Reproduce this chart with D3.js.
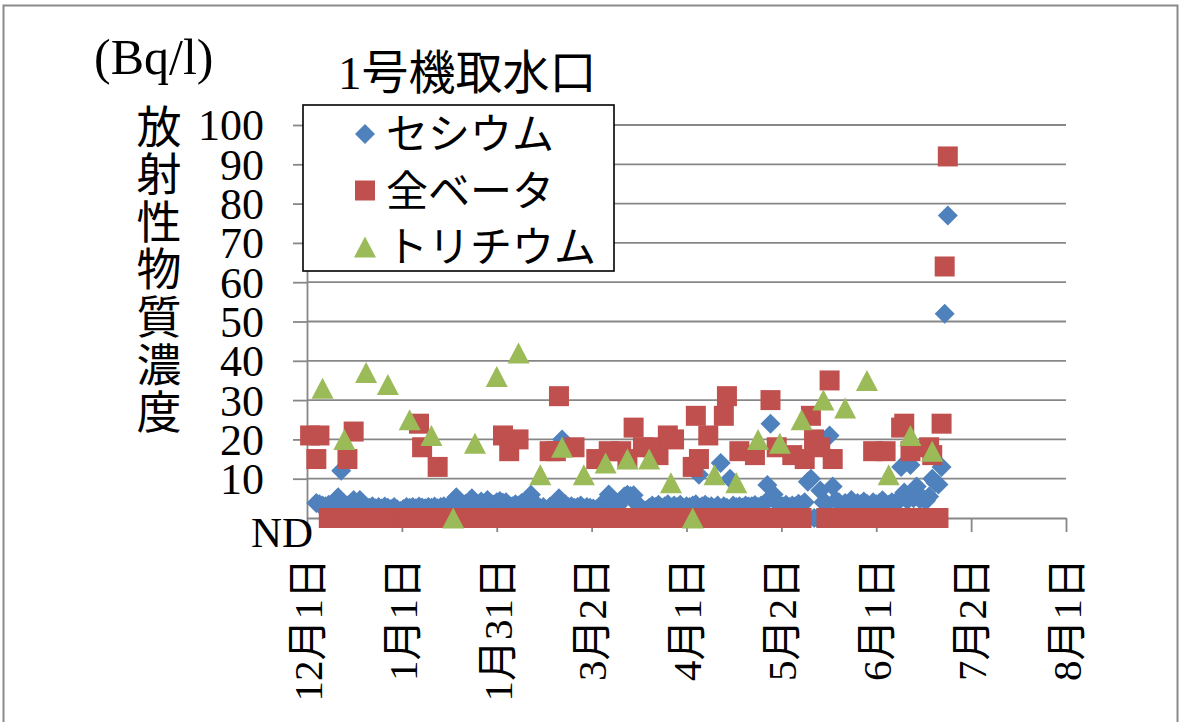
<!DOCTYPE html>
<html><head><meta charset="utf-8">
<script src="https://cdn.jsdelivr.net/npm/d3@7/dist/d3.min.js"></script>
<style>html,body{margin:0;padding:0;background:#fff;} svg{display:block}</style>
</head><body>
<svg id="c" width="1182" height="722"></svg>
<script>
// ---------------- data ----------------
const chartTitle = "1号機取水口";
const unitLabel = "(Bq/l)";
const yTitle = "放射性物質濃度";
const seriesNames = ["セシウム", "全ベータ", "トリチウム"];
const seriesColors = ["#4F81BD", "#C0504D", "#9BBB59"];
const xDomain = ["2011-12-01", "2012-08-01"];
const xMajorUnitDays = 30.5;
const xTickLabels = ["12月1日", "1月1日", "1月31日", "3月2日", "4月1日", "5月2日", "6月1日", "7月2日", "8月1日"];
const yTickValues = [10, 20, 30, 40, 50, 60, 70, 80, 90, 100];
const ndLabel = "ND";   // value 0 = not detected

// Cesium: daily samples starting 2011-12-04 (0 = ND, null = no sample)
const cesiumStart = "2011-12-04";
const cesium = [
  3.8, 3.5, 3.2, 3.0, 3.4, 3.0, 3.6,
  5.3, 12, 3.5, 3.2, 3.0, 4.6, 3.3, 4.6, 3.4, 2.8,
  2.6, 3.0, 2.5, 2.8, 2.4, 2.9, 2.6, 2.3, 2.8, 2.2,
  1.8, 2.3, 2.8, 2.6, 2.8, 2.5, 2.9, 2.7, 2.5, 2.8,
  2.6, 2.9, 2.5, 2.8, 3.0, 2.7, 3.2, 3.8, 5.3, 3.5,
  3.0, 3.6, 4.0, 5.0, 3.8, 3.4, 4.2, 3.6, 4.6, 3.8,
  3.4, 4.0, 4.3, 3.9, 4.0, 3.2, 3.0, 3.5, 3.2, 3.8,
  3.5, 4.5, 5.9, 4.0, 3.2, 2.5, 2.8, 1.5, 2.8, 3.0,
  3.6, 5.0, 20, 3.5, 2.8, 3.0, 2.6, 2.8, 3.2, 2.5,
  2.8, 2.6, 2.4, 2.2, 1.5, 3.0, 4.5, 6.0, 3.8, 3.5,
  3.2, 4.5, 5.5, 5.9, 5.6, 5.8, 3.6, 3.0, 1.2, 2.0,
  2.6, 3.2, 2.8, 3.4, 2.6, 3.0, 3.5, 2.7, 3.2, 2.8,
  3.4, 2.6, 3.0, 2.8, 3.2, 3.5, 11, 3.0, 3.4, 2.8,
  3.0, 2.4, 3.2, 14, 3.0, 2.6, 10, 3.2, 2.8, 3.0,
  2.7, 3.2, 2.9, 3.0, 3.3, 2.8, 3.2, 3.6, 8.4, 24,
  6.0, 4.0, 3.2, 3.0, 3.4, 2.8, 3.2, 3.0, 3.6, 3.3,
  4.0, 9.2, 10, 0, 0, 7.0, 4.0, 3.6, 21, 8.0,
  4.5, 4.0, 3.2, 3.8, 3.5, 4.6, 3.2, 3.8, 3.5, 4.2,
  3.6, 3.2, 4.0, 3.5, 3.8, 4.5, 3.6, 3.4, 4.0, 3.8,
  4.2, 13, 6.5, 4.5, 13.5, 5.0, 8.0, 4.8, 5.0, 4.4,
  5.5, 10, 9.0, 8.5, 13, 52, 77
];

// Gross beta: daily samples starting 2011-12-02 (0 = ND, null = no sample)
const betaStart = "2011-12-02";
const beta = [
  21, null, 15, 21, null, null, 0, 0, 0, 0,
  0, 0, 15, 0, 22, 0, 0, 0, 0, 0,
  0, 0, 0, 0, 0, 0, 0, 0, 0, 0,
  0, 0, 0, 0, 0, 24, 18, 0, 0, 0,
  0, 13, 0, 0, 0, 0, 0, 0, 0, 0,
  0, 0, 0, 0, 0, 0, 0, 0, 0, 0,
  0, 0, 21, 0, 17, 0, 0, 20, 0, 0,
  0, 0, 0, 0, 0, 0, 0, 17, 0, 17,
  31, 0, 0, 0, 0, 18, 0, 0, 0, 0,
  0, 0, 15, 0, 0, 0, 17, 0, 0, 0,
  17, 0, 15, 0, 23, 0, 0, 18, 0, 0,
  18, 0, 16, 0, 0, 21, 0, 20, 0, 0,
  0, 0, 0, 13, 26, 15, 0, 0, 21, 0,
  0, 0, 0, 26, 31, 0, 0, 0, 17, 0,
  0, 0, 0, 16, 0, 0, 0, 0, 30, 0,
  18, 0, 0, 0, 0, 16, 0, 0, 0, 15,
  null, 26, 20, null, 18, null, 0, 35, 15, 0,
  0, 0, 0, 0, 0, 0, 0, 0, 0, 0,
  0, 17, 0, 0, 0, 17, 0, 0, 0, 0,
  23, 24, 0, 17, 0, 0, 0, 0, 0, 18,
  16, 0, 0, 24, 64, 92
];

// Tritium: weekly samples
const tritiumDates = [
  "2011-12-06", "2011-12-13", "2011-12-20", "2011-12-27",
  "2012-01-03", "2012-01-10", "2012-01-17", "2012-01-24", "2012-01-31",
  "2012-02-07", "2012-02-14", "2012-02-21", "2012-02-28",
  "2012-03-06", "2012-03-13", "2012-03-20", "2012-03-27",
  "2012-04-03", "2012-04-10", "2012-04-17", "2012-04-24",
  "2012-05-01", "2012-05-08", "2012-05-15", "2012-05-22", "2012-05-29",
  "2012-06-05", "2012-06-12", "2012-06-19"
];
const tritium = [33, 20, 37, 34, 25, 21, 0, 19, 36, 42, 11, 18, 11, 14, 15, 15, 9, 0, 11, 9, 20, 19, 25, 30, 28, 35, 11, 21, 17];

// ---------------- build ----------------
const parse = d3.utcParse("%Y-%m-%d");
function daily(start, vals) {
  const s = parse(start);
  return vals.map((v, i) => ({ date: d3.utcDay.offset(s, i), v })).filter(d => d.v !== null);
}
const cesiumPts = daily(cesiumStart, cesium);
const betaPts = daily(betaStart, beta);
const tritiumPts = tritiumDates.map((d, i) => ({ date: parse(d), v: tritium[i] }));

const svg = d3.select("#c");
const serif = "'Liberation Serif','Noto Sans CJK JP',serif";
const jp = "'Noto Sans CJK JP','Noto Sans CJK SC',sans-serif";
const gridCol = "#878787";

const L = 307, R = 1066, T = 125, B = 518;
const x = d3.scaleUtc().domain(xDomain.map(parse)).range([L, R]);
const y = d3.scaleLinear().domain([0, 100]).range([B, T]);

svg.append("rect").attr("width", 1182).attr("height", 722).attr("fill", "#fff");
// outer chart border
svg.append("rect").attr("x", 3.5).attr("y", 5.5).attr("width", 1174).attr("height", 760)
  .attr("fill", "none").attr("stroke", "#8a8a8a").attr("stroke-width", 2);

// horizontal gridlines
svg.append("g").selectAll("line").data(yTickValues).join("line")
  .attr("x1", L).attr("x2", R).attr("y1", d => y(d)).attr("y2", d => y(d))
  .attr("stroke", gridCol).attr("stroke-width", 1.8);

// y axis
const yAxis = svg.append("g").attr("transform", `translate(${L},0)`)
  .call(d3.axisLeft(y).tickValues(yTickValues).tickSize(14).tickPadding(29).tickSizeOuter(0));
yAxis.select(".domain").attr("stroke", gridCol).attr("stroke-width", 1.8);
yAxis.selectAll(".tick line").attr("stroke", gridCol).attr("stroke-width", 1.8);
yAxis.selectAll(".tick text").attr("font-family", serif).attr("font-size", 44).attr("fill", "#000").attr("dy", "0.34em");

// x axis
const d0 = parse(xDomain[0]);
const xTicks = xTickLabels.map((_, k) => new Date(+d0 + k * xMajorUnitDays * 864e5));
const xAxis = svg.append("g").attr("transform", `translate(0,${B})`)
  .call(d3.axisBottom(x).tickValues(xTicks).tickSize(14).tickSizeOuter(0).tickFormat(""));
xAxis.select(".domain").attr("stroke", gridCol).attr("stroke-width", 1.8);
xAxis.selectAll(".tick line").attr("stroke", gridCol).attr("stroke-width", 1.8);

svg.append("g").selectAll("text").data(xTicks).join("text")
  .attr("transform", d => `translate(${x(d)},558) rotate(-90)`)
  .attr("text-anchor", "end").attr("dy", "0.36em")
  .attr("font-family", serif).attr("font-size", 41).attr("fill", "#000")
  .text((d, i) => xTickLabels[i]);

// ND label for zero
svg.append("text").attr("x", 313).attr("y", 547).attr("text-anchor", "end")
  .attr("font-family", serif).attr("font-size", 43).text(ndLabel);

// markers
const shapes = [
  "M0,-10L10,0L0,10L-10,0Z",
  "M-10,-10H10V10H-10Z",
  "M0,-10.5L11,10.5L-11,10.5Z"
];
[cesiumPts, betaPts, tritiumPts].forEach((pts, si) => {
  svg.append("g").selectAll("path").data(pts).join("path")
    .attr("d", shapes[si])
    .attr("transform", d => `translate(${x(d.date)},${y(d.v)})`)
    .attr("fill", seriesColors[si]);
});

// legend
const lg = svg.append("g");
lg.append("rect").attr("x", 303).attr("y", 105).attr("width", 311).attr("height", 166)
  .attr("fill", "#fff").attr("stroke", "#000").attr("stroke-width", 1.6);
seriesNames.forEach((name, i) => {
  const cy = 134 + i * 56.5;
  lg.append("path").attr("d", shapes[i]).attr("transform", `translate(365,${cy})`).attr("fill", seriesColors[i]);
  lg.append("text").attr("x", 386).attr("y", cy).attr("dy", "0.36em")
    .attr("font-family", jp).attr("font-size", 42).attr("fill", "#000").text(name);
});

// titles
svg.append("text").attr("x", 338).attr("y", 89).attr("font-family", serif).attr("font-size", 47).text(chartTitle);
svg.append("text").attr("x", 94).attr("y", 74).attr("font-family", serif).attr("font-size", 50).text(unitLabel);
// vertical axis title as one vertical text run
svg.append("text").attr("x", 159).attr("y", 104)
  .style("writing-mode", "vertical-rl").style("text-orientation", "upright")
  .attr("letter-spacing", 2.6)
  .attr("font-family", jp).attr("font-size", 45).text(yTitle);
</script>
</body></html>
